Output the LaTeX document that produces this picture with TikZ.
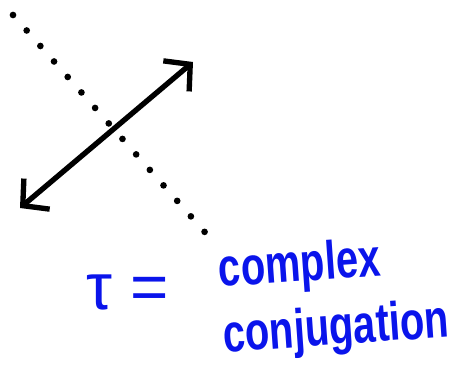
\documentclass[tikz,border=0pt]{standalone}
\usepackage{fontspec}
\setmainfont{Liberation Sans}
\usetikzlibrary{arrows.meta,positioning}
\definecolor{ink}{RGB}{10,20,235}
\begin{document}
\begin{tikzpicture}[x=0.03cm,y=-0.03cm,
  dots/.style={line width=0.2cm,line cap=round,dash pattern=on 0pt off 0.62cm},
  dblarr/.style={line width=0.16cm,line cap=round,
     {Straight Barb[length=0.55cm,width=1.2cm]}-{Straight Barb[length=0.55cm,width=1.2cm]}},
  hand/.style={text=ink,font=\bfseries\fontsize{46}{56}\selectfont,inner sep=0pt}]
\useasboundingbox (0,0) rectangle (459,365);
\coordinate (dtop) at (13,15);
\coordinate (dbot) at (210,238);
\coordinate (alow) at (20,208);
\coordinate (ahigh) at (193,62);
\draw[dots] (dtop) -- (dbot);
\draw[dblarr] (alow) -- (ahigh);
\node[hand,font=\fontsize{56}{60}\selectfont] (tau) at (128,292) {τ =};
\node[hand,align=left,rotate=4,xscale=0.74] (conj) at (334,298) {complex\\conjugation};
\end{tikzpicture}
\end{document}
